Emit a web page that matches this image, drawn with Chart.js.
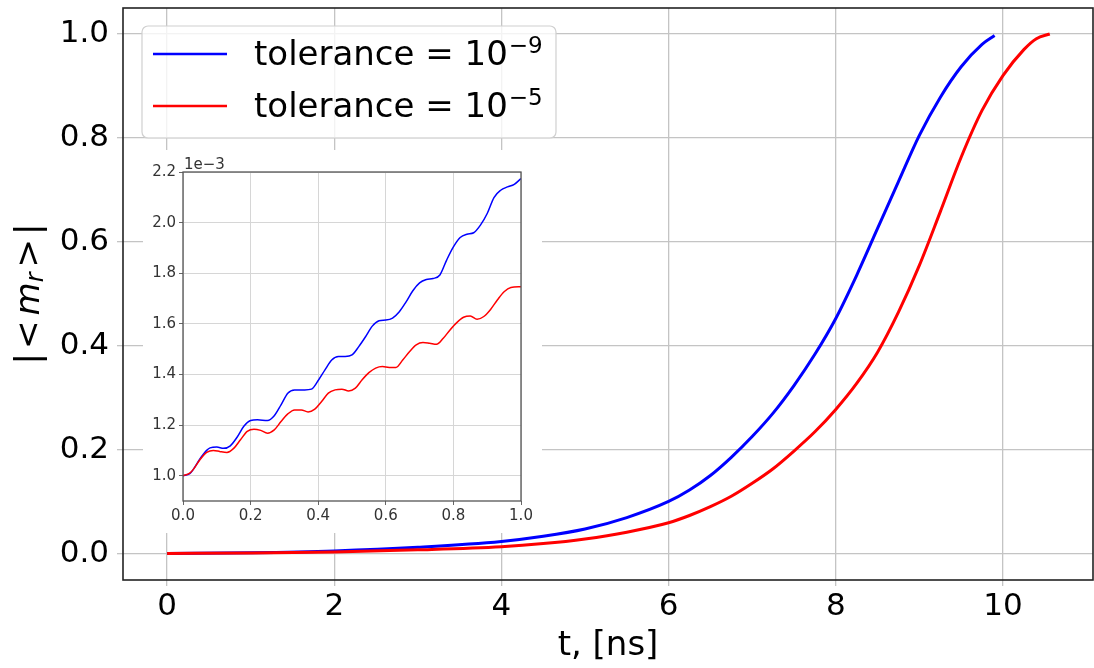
<!DOCTYPE html>
<html>
<head>
<meta charset="utf-8">
<script src="https://cdn.jsdelivr.net/npm/chart.js@4.4.1/dist/chart.umd.min.js"></script>
<style>
  html, body { margin: 0; padding: 0; background: #fff; }
  #wrap { position: relative; width: 1094px; height: 668px; }
  #main { position: absolute; left: 0; top: 0; }
  #inset { position: absolute; left: 143px; top: 150px; }
</style>
</head>
<body>
<div id="wrap">
  <canvas id="main" width="1094" height="668"></canvas>
  <canvas id="inset" width="399" height="383"></canvas>
</div>
<script>
// main plot: |<m_r>| vs t [ns]
const tBlue = [0, 1, 2, 3, 4, 4.5, 5, 5.5, 6, 6.25, 6.5, 6.75, 7, 7.25, 7.5, 7.75, 8, 8.25, 8.5, 8.75, 9, 9.25, 9.5, 9.75, 9.9];
const mBlue = [0.001, 0.0025, 0.006, 0.013, 0.024, 0.034, 0.048, 0.070, 0.101, 0.123, 0.151, 0.186, 0.226, 0.271, 0.324, 0.384, 0.453, 0.536, 0.626, 0.716, 0.805, 0.878, 0.937, 0.980, 0.997];
const tRed = [0, 1, 2, 3, 4, 4.5, 5, 5.5, 6, 6.25, 6.5, 6.75, 7, 7.25, 7.5, 7.75, 8, 8.25, 8.5, 8.75, 9, 9.25, 9.5, 9.75, 10, 10.25, 10.4, 10.56];
const mRed = [0.001, 0.002, 0.004, 0.008, 0.014, 0.020, 0.029, 0.042, 0.060, 0.074, 0.091, 0.111, 0.136, 0.164, 0.198, 0.235, 0.278, 0.328, 0.388, 0.465, 0.555, 0.658, 0.763, 0.853, 0.920, 0.970, 0.991, 1.000];

// inset: first nanosecond, values in units of 1e-3
const insetTBlue = [0, 0.02, 0.03, 0.05, 0.07, 0.08, 0.10, 0.12, 0.14, 0.16, 0.18, 0.20, 0.22, 0.25, 0.27, 0.29, 0.31, 0.33, 0.36, 0.38, 0.40, 0.42, 0.44, 0.46, 0.48, 0.50, 0.52, 0.54, 0.56, 0.58, 0.60, 0.62, 0.64, 0.66, 0.68, 0.70, 0.72, 0.74, 0.76, 0.78, 0.80, 0.82, 0.84, 0.86, 0.88, 0.90, 0.92, 0.94, 0.96, 0.98, 1.00];
const insetBlue = [1.000, 1.008, 1.024, 1.066, 1.100, 1.110, 1.113, 1.108, 1.118, 1.152, 1.195, 1.218, 1.221, 1.218, 1.237, 1.280, 1.326, 1.339, 1.339, 1.342, 1.376, 1.418, 1.457, 1.471, 1.471, 1.477, 1.510, 1.549, 1.591, 1.612, 1.615, 1.623, 1.648, 1.687, 1.731, 1.762, 1.775, 1.779, 1.793, 1.852, 1.904, 1.941, 1.954, 1.960, 1.990, 2.036, 2.099, 2.128, 2.141, 2.151, 2.174];
const insetTRed = [0, 0.02, 0.03, 0.05, 0.07, 0.09, 0.11, 0.13, 0.15, 0.17, 0.19, 0.21, 0.23, 0.25, 0.27, 0.29, 0.31, 0.33, 0.35, 0.37, 0.39, 0.41, 0.43, 0.45, 0.47, 0.49, 0.51, 0.53, 0.55, 0.57, 0.59, 0.61, 0.63, 0.65, 0.67, 0.69, 0.71, 0.73, 0.75, 0.77, 0.79, 0.81, 0.83, 0.85, 0.87, 0.89, 0.91, 0.93, 0.95, 0.97, 1.00];
const insetRed = [1.000, 1.010, 1.024, 1.063, 1.092, 1.100, 1.095, 1.092, 1.108, 1.142, 1.175, 1.184, 1.179, 1.168, 1.181, 1.214, 1.244, 1.260, 1.260, 1.252, 1.263, 1.293, 1.326, 1.339, 1.342, 1.335, 1.346, 1.379, 1.407, 1.425, 1.431, 1.428, 1.428, 1.457, 1.490, 1.517, 1.526, 1.523, 1.519, 1.543, 1.576, 1.605, 1.626, 1.631, 1.618, 1.629, 1.657, 1.694, 1.727, 1.744, 1.747];

const xTicks = [0, 2, 4, 6, 8, 10];
const yTicks = [0, 0.2, 0.4, 0.6, 0.8, 1.0];
const insetXTicks = [0, 0.2, 0.4, 0.6, 0.8, 1.0];
const insetYTicks = [1.0, 1.2, 1.4, 1.6, 1.8, 2.0, 2.2];

const legendBase = ["tolerance = 10", "tolerance = 10"];
const legendSup = ["\u22129", "\u22125"];

const FONT = "'DejaVu Sans', sans-serif";
const BLUE = "#0000ff";
const RED = "#ff0000";

const zip = (xs, ys) => xs.map((x, i) => ({ x: x, y: ys[i] }));
const fixTicks = (vals) => (scale) => { scale.ticks = vals.map((v) => ({ value: v })); };
// fixed axis size, and no extra room for overhanging end labels
const fitX = (h) => (s) => { s.height = h; s.paddingLeft = 0; s.paddingRight = 0; };
const fitY = (w) => (s) => { s.width = w; s.paddingTop = 0; s.paddingBottom = 0; };

// axes frame (all four spines)
const framePlugin = {
  id: "frame",
  afterDatasetsDraw(chart, args, opts) {
    const { ctx, chartArea: a } = chart;
    ctx.save();
    ctx.strokeStyle = opts.color;
    ctx.lineWidth = opts.width;
    ctx.strokeRect(a.left, a.top, a.right - a.left, a.bottom - a.top);
    ctx.restore();
  },
};

const whiteBg = {
  id: "whiteBg",
  beforeDraw(chart) {
    const ctx = chart.ctx;
    ctx.save();
    ctx.fillStyle = "#fff";
    ctx.fillRect(0, 0, chart.width, chart.height);
    ctx.restore();
  },
};

// legend box + y label drawn by hand (superscripts, italic m_r)
const mainDecor = {
  id: "mainDecor",
  afterDraw(chart) {
    const ctx = chart.ctx;
    ctx.save();

    // legend frame
    const bx = 142, by = 26, bw = 414, bh = 112, r = 6;
    ctx.beginPath();
    ctx.roundRect(bx, by, bw, bh, r);
    ctx.fillStyle = "rgba(255,255,255,0.8)";
    ctx.fill();
    ctx.strokeStyle = "#d0d0d0";
    ctx.lineWidth = 1.2;
    ctx.stroke();

    const colors = [BLUE, RED];
    const rowY = [54, 106];
    for (let i = 0; i < 2; i++) {
      ctx.strokeStyle = colors[i];
      ctx.lineWidth = 2.5;
      ctx.beginPath();
      ctx.moveTo(153, rowY[i]);
      ctx.lineTo(227, rowY[i]);
      ctx.stroke();

      ctx.fillStyle = "#000";
      ctx.textBaseline = "alphabetic";
      ctx.textAlign = "left";
      ctx.font = "34px " + FONT;
      const base = rowY[i] + 11;
      ctx.fillText(legendBase[i], 254, base);
      const w = ctx.measureText(legendBase[i]).width;
      ctx.font = "23px " + FONT;
      ctx.fillText(legendSup[i], 254 + w + 1, base - 12);
    }

    // y axis label |< m_r >|
    ctx.translate(30, 294);
    ctx.rotate(-Math.PI / 2);
    const parts = [
      { t: "|", f: "34px " + FONT, dy: 0, gap: 4 },
      { t: "<", f: "34px " + FONT, dy: 0, gap: 5 },
      { t: "m", f: "italic 34px " + FONT, dy: 0, gap: 0 },
      { t: "r", f: "italic 24px " + FONT, dy: 7, gap: 5 },
      { t: ">", f: "34px " + FONT, dy: 0, gap: 4 },
      { t: "|", f: "34px " + FONT, dy: 0, gap: 0 },
    ];
    let total = 0;
    parts.forEach((p) => { ctx.font = p.f; p.w = ctx.measureText(p.t).width; total += p.w + p.gap; });
    let x = -total / 2;
    ctx.textBaseline = "middle";
    ctx.fillStyle = "#000";
    parts.forEach((p) => {
      ctx.font = p.f;
      ctx.fillText(p.t, x, p.dy);
      x += p.w + p.gap;
    });
    ctx.restore();
  },
};

new Chart(document.getElementById("main"), {
  type: "line",
  data: {
    datasets: [
      { label: "tolerance = 10⁻⁹", data: zip(tBlue, mBlue), borderColor: BLUE, borderWidth: 3, order: 1 },
      { label: "tolerance = 10⁻⁵", data: zip(tRed, mRed), borderColor: RED, borderWidth: 3, order: 0 },
    ],
  },
  options: {
    responsive: false,
    animation: false,
    devicePixelRatio: 1,
    layout: { padding: { top: 8, right: 1, left: 0, bottom: 0 } },
    elements: {
      point: { radius: 0 },
      line: { cubicInterpolationMode: "monotone", fill: false },
    },
    plugins: {
      legend: { display: false },
      tooltip: { enabled: false },
      frame: { color: "#222", width: 1.6 },
    },
    scales: {
      x: {
        type: "linear",
        min: -0.5275,
        max: 11.0775,
        afterBuildTicks: fixTicks(xTicks),
        afterFit: fitX(88),
        grid: { color: "#c4c4c4", lineWidth: 1.3, tickLength: 6 },
        border: { display: false },
        ticks: { color: "#000", font: { family: FONT, size: 31 }, padding: 2, maxRotation: 0, callback: (v) => String(v) },
        title: { display: true, text: "t, [ns]", color: "#000", font: { family: FONT, size: 34 }, padding: { top: 0, bottom: 1 } },
      },
      y: {
        type: "linear",
        min: -0.05,
        max: 1.05,
        afterBuildTicks: fixTicks(yTicks),
        afterFit: fitY(123),
        grid: { color: "#c4c4c4", lineWidth: 1.3, tickLength: 6 },
        border: { display: false },
        ticks: { color: "#000", font: { family: FONT, size: 31 }, padding: 8, callback: (v) => v.toFixed(1) },
      },
    },
  },
  plugins: [framePlugin, mainDecor],
});

// inset offset text
const insetDecor = {
  id: "insetDecor",
  afterDraw(chart) {
    const ctx = chart.ctx;
    ctx.save();
    ctx.fillStyle = "#333";
    ctx.font = "15px " + FONT;
    ctx.textBaseline = "alphabetic";
    ctx.textAlign = "left";
    ctx.fillText("1e\u22123", 41, 19);
    ctx.restore();
  },
};

new Chart(document.getElementById("inset"), {
  type: "line",
  data: {
    datasets: [
      { label: "tolerance = 10⁻⁹", data: zip(insetTBlue, insetBlue), borderColor: BLUE, borderWidth: 1.5, order: 1 },
      { label: "tolerance = 10⁻⁵", data: zip(insetTRed, insetRed), borderColor: RED, borderWidth: 1.5, order: 0 },
    ],
  },
  options: {
    responsive: false,
    animation: false,
    devicePixelRatio: 1,
    layout: { padding: { top: 22, right: 21, left: 0, bottom: 0 } },
    elements: {
      point: { radius: 0 },
      line: { cubicInterpolationMode: "monotone", fill: false },
    },
    plugins: {
      legend: { display: false },
      tooltip: { enabled: false },
      frame: { color: "#555", width: 1.3 },
    },
    scales: {
      x: {
        type: "linear",
        min: 0,
        max: 1,
        afterBuildTicks: fixTicks(insetXTicks),
        afterFit: fitX(32),
        grid: { color: "#d6d6d6", lineWidth: 1, tickLength: 4, tickColor: "#666" },
        border: { display: false },
        ticks: { color: "#333", font: { family: FONT, size: 15 }, padding: 2, maxRotation: 0, callback: (v) => v.toFixed(1) },
      },
      y: {
        type: "linear",
        min: 0.9,
        max: 2.2,
        afterBuildTicks: fixTicks(insetYTicks),
        afterFit: fitY(40),
        grid: { color: "#d6d6d6", lineWidth: 1, tickLength: 4, tickColor: "#666" },
        border: { display: false },
        ticks: { color: "#333", font: { family: FONT, size: 15 }, padding: 3, callback: (v) => v.toFixed(1) },
      },
    },
  },
  plugins: [whiteBg, framePlugin, insetDecor],
});
</script>
</body>
</html>
